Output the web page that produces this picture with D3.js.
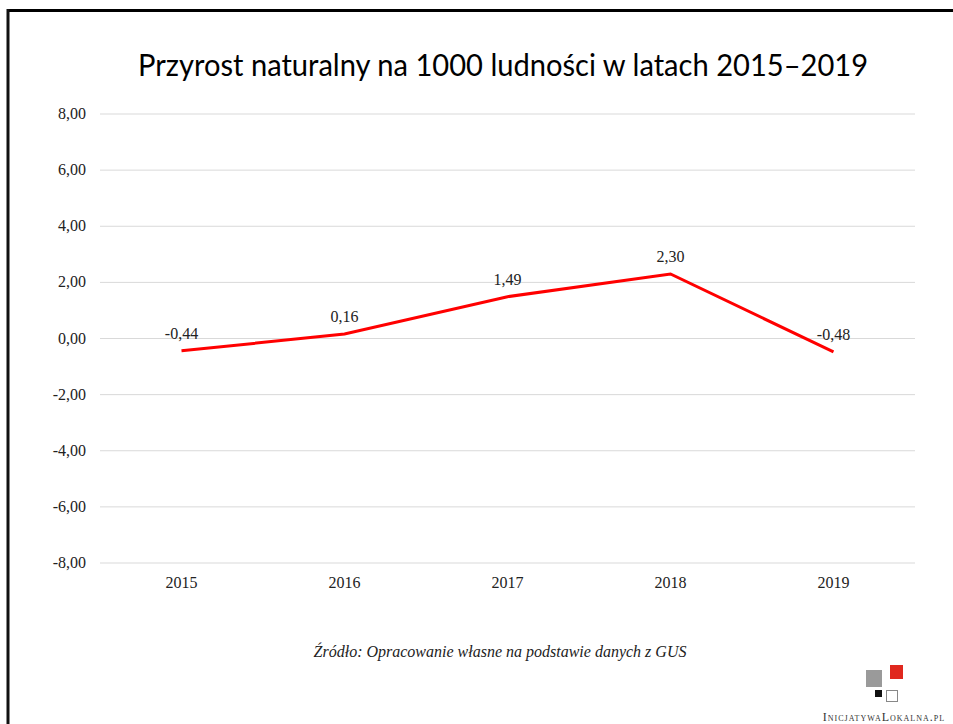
<!DOCTYPE html>
<html><head><meta charset="utf-8">
<script src="https://cdn.jsdelivr.net/npm/d3@7/dist/d3.min.js"></script>
<style>body{margin:0;background:#fff}svg{display:block}
.serif{font-family:"Liberation Serif","Times New Roman",Times,"Nimbus Roman","DejaVu Serif",serif}</style>
</head><body><svg id="c" width="953" height="724"></svg>
<script>
const years = ["2015","2016","2017","2018","2019"];
const values = [-0.44, 0.16, 1.49, 2.30, -0.48];
const yTicks = [-8, -6, -4, -2, 0, 2, 4, 6, 8];
const title = "Przyrost naturalny na 1000 ludności w latach 2015–2019";
const source = "Źródło: Opracowanie własne na podstawie danych z GUS";

const svg = d3.select("#c");
const fmt = v => d3.format(".2f")(v).replace(".", ",").replace("−","-");

// frame
svg.append("line").attr("x1",7).attr("x2",953).attr("y1",10.5).attr("y2",10.5).attr("stroke","#000").attr("stroke-width",3);
svg.append("line").attr("x1",8).attr("x2",8).attr("y1",9).attr("y2",724).attr("stroke","#111").attr("stroke-width",3);

svg.append("text").attr("x",503).attr("y",76).attr("text-anchor","middle")
  .attr("font-family","Lato, 'Open Sans', sans-serif").attr("font-size",30).attr("fill","#000")
  .attr("textLength",730).attr("lengthAdjust","spacingAndGlyphs")
  .text(title);

const x = d3.scaleBand().domain(years).range([100,915]);
const y = d3.scaleLinear().domain([-8,8]).range([563,114]);

const g = svg.append("g");
g.selectAll("line.grid").data(yTicks).join("line").attr("class","grid")
  .attr("x1",100).attr("x2",915).attr("y1",d=>y(d)).attr("y2",d=>y(d))
  .attr("stroke","#d9d9d9").attr("stroke-width",1);

g.selectAll("text.yl").data(yTicks).join("text").attr("class","yl serif")
  .attr("x",86).attr("y",d=>y(d)+5).attr("text-anchor","end")
  .attr("font-size",16).attr("fill","#222")
  .text(d=>fmt(d));

g.selectAll("text.xl").data(years).join("text").attr("class","xl serif")
  .attr("x",d=>x(d)+x.bandwidth()/2).attr("y",588).attr("text-anchor","middle")
  .attr("font-size",16).attr("fill","#222")
  .text(d=>d);

const line = d3.line().x((d,i)=>x(years[i])+x.bandwidth()/2).y(d=>y(d));
g.append("path").datum(values).attr("d",line).attr("fill","none").attr("stroke","#ff0000").attr("stroke-width",3);

g.selectAll("text.dl").data(values).join("text").attr("class","dl serif")
  .attr("x",(d,i)=>x(years[i])+x.bandwidth()/2).attr("y",d=>y(d)-12).attr("text-anchor","middle")
  .attr("font-size",16).attr("fill","#222")
  .text(d=>fmt(d));

svg.append("text").attr("class","serif").attr("x",500).attr("y",657).attr("text-anchor","middle")
  .attr("font-style","italic").attr("font-size",16).attr("fill","#222")
  .text(source);

// logo
const lg = svg.append("g");
lg.append("rect").attr("x",866).attr("y",670).attr("width",16).attr("height",17).attr("fill","#9a9a9a");
lg.append("rect").attr("x",890).attr("y",665).attr("width",13).attr("height",14).attr("fill","#e0281e");
lg.append("rect").attr("x",875).attr("y",690).attr("width",7).attr("height",7).attr("fill","#111");
lg.append("rect").attr("x",886.5).attr("y",690.5).attr("width",11).attr("height",11).attr("fill","#fff").attr("stroke","#888");
lg.append("text").attr("class","serif").attr("x",884).attr("y",721).attr("text-anchor","middle")
  .attr("font-size",12).attr("fill","#333")
  .attr("font-variant","small-caps").attr("letter-spacing",1).text("InicjatywaLokalna.pl");
</script></body></html>
